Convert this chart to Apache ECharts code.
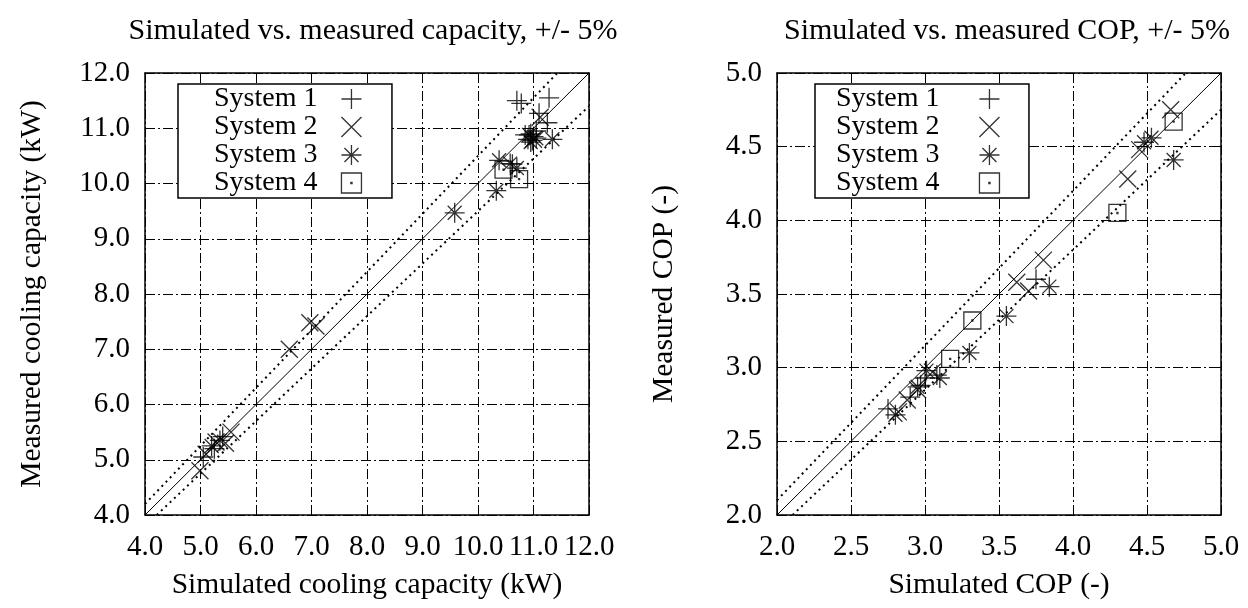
<!DOCTYPE html>
<html>
<head>
<meta charset="utf-8">
<script src="https://cdn.jsdelivr.net/npm/echarts@6/dist/echarts.min.js"></script>
<style>
  html, body { margin: 0; padding: 0; background: #fff; }
  #chart { width: 1248px; height: 608px; }
</style>
</head>
<body>
<div id="chart"></div>
<script>
// Series names shown in both legends
const systemNames = ['System 1', 'System 2', 'System 3', 'System 4'];

// Cooling capacity, [simulated kW, measured kW]
const capSystem1 = [[10.70, 11.50], [10.78, 11.45], [11.28, 11.55], [11.10, 11.27], [11.25, 11.10],
  [10.95, 10.90], [11.00, 10.85], [10.90, 10.80], [11.05, 10.95], [10.85, 10.88], [10.98, 10.78],
  [10.62, 10.35], [5.05, 5.05], [5.40, 5.42], [5.25, 5.20]];
const capSystem2 = [[11.12, 11.20], [11.00, 10.80], [6.60, 7.00], [6.97, 7.48], [7.08, 7.42],
  [4.99, 4.80], [5.10, 5.10], [5.55, 5.50], [5.45, 5.30], [5.28, 5.32]];
const capSystem3 = [[11.34, 10.80], [10.38, 10.42], [10.58, 10.36], [10.70, 10.28], [10.33, 9.87],
  [9.58, 9.47], [10.95, 10.75], [11.05, 10.82], [10.92, 10.88], [5.35, 5.35], [5.20, 5.25]];
const capSystem4 = [[10.46, 10.25], [10.74, 10.08]];

// COP, [simulated, measured]
const copSystem1 = [[2.75, 2.72], [2.90, 2.80], [2.97, 2.88], [3.08, 2.95], [3.00, 2.93], [3.75, 3.60]];
const copSystem2 = [[4.66, 4.75], [4.45, 4.48], [4.37, 4.28], [3.62, 3.58], [3.70, 3.52], [3.80, 3.73],
  [2.88, 2.78], [2.95, 2.85], [3.05, 2.97], [2.82, 2.70]];
const copSystem3 = [[4.48, 4.53], [4.53, 4.56], [4.68, 4.41], [3.84, 3.55], [3.55, 3.35], [3.30, 3.10],
  [3.01, 2.98], [2.95, 2.87], [2.80, 2.68], [3.10, 2.93]];
const copSystem4 = [[4.68, 4.67], [4.30, 4.05], [3.32, 3.32], [3.17, 3.06]];

// Axis ranges and tick steps
const capRange = [4, 12];
const capStep = 1;
const copRange = [2, 5];
const copStep = 0.5;

// Tolerance band around the 1:1 line
const TOL = 0.05;

const FONT = 'Liberation Serif';
const INK = '#000';

// Point shapes: plus, cross, asterisk, box with centre dot
const symbols = [
  { path: 'path://M0,10L20,10M10,0L10,20', size: 20 },
  { path: 'path://M0,0L20,20M0,20L20,0', size: 17 },
  { path: 'path://M0,10L20,10M10,0L10,20M3,3L17,17M3,17L17,3', size: 20 },
  { path: 'path://M0,0L20,0L20,20L0,20Z M9.4,9.4L10.6,9.4L10.6,10.6L9.4,10.6Z', size: 17 }
];

const capData = [capSystem1, capSystem2, capSystem3, capSystem4];
const copData = [copSystem1, copSystem2, copSystem3, copSystem4];

const gridDash = [10, 3, 2, 3];

function valueAxes(range, step, idx, name, isX) {
  const main = {
    type: 'value', gridIndex: idx, min: range[0], max: range[1], interval: step,
    position: isX ? 'bottom' : 'left',
    name: name, nameLocation: 'middle', nameGap: isX ? 55 : 98,
    nameTextStyle: { fontFamily: FONT, fontSize: 29.5, color: INK },
    axisLine: { show: true, onZero: false, lineStyle: { color: INK, width: 1.5 } },
    axisTick: { show: true, inside: true, length: 9, lineStyle: { color: INK, width: 1 } },
    axisLabel: {
      fontFamily: FONT, fontSize: 29, color: INK, margin: isX ? 18 : 15,
      formatter: v => v.toFixed(1)
    },
    splitLine: { show: true, lineStyle: { color: INK, width: 1, type: gridDash } }
  };
  const mirror = {
    type: 'value', gridIndex: idx, min: range[0], max: range[1], interval: step,
    position: isX ? 'top' : 'right',
    axisLine: { show: true, onZero: false, lineStyle: { color: INK, width: 1.5 } },
    axisTick: { show: true, inside: true, length: 9, lineStyle: { color: INK, width: 1 } },
    axisLabel: { show: false },
    splitLine: { show: false }
  };
  return [main, mirror];
}

function panelSeries(data, range, xIdx, yIdx) {
  const out = [];
  const lo = range[0], hi = range[1];
  // 1:1 line and the +/- tolerance lines
  out.push({
    type: 'line', name: 'parity', xAxisIndex: xIdx, yAxisIndex: yIdx,
    data: [[lo, lo], [hi, hi]], symbol: 'none', silent: true,
    lineStyle: { color: INK, width: 1 }, z: 3
  });
  out.push({
    type: 'line', name: 'upper', xAxisIndex: xIdx, yAxisIndex: yIdx,
    data: [[lo, lo * (1 + TOL)], [hi / (1 + TOL), hi]], symbol: 'none', silent: true,
    lineStyle: { color: INK, width: 2, type: [2, 4] }, z: 3
  });
  out.push({
    type: 'line', name: 'lower', xAxisIndex: xIdx, yAxisIndex: yIdx,
    data: [[lo / (1 - TOL), lo], [hi, hi * (1 - TOL)]], symbol: 'none', silent: true,
    lineStyle: { color: INK, width: 2, type: [2, 4] }, z: 3
  });
  data.forEach((pts, i) => {
    out.push({
      type: 'scatter', name: systemNames[i], xAxisIndex: xIdx, yAxisIndex: yIdx,
      data: pts, symbol: symbols[i].path, symbolSize: symbols[i].size,
      itemStyle: { color: 'none', borderColor: INK, borderWidth: 1.3 }, z: 4
    });
  });
  return out;
}

function legendAt(left, padLeft, width, padRight) {
  return {
    data: systemNames, orient: 'vertical', left: left, top: 84, align: 'right',
    itemWidth: width, itemHeight: 20, itemGap: 0, padding: [1, padRight, 1, padLeft],
    backgroundColor: '#fff', borderColor: INK, borderWidth: 1.5,
    textStyle: { fontFamily: FONT, fontSize: 28, color: INK, lineHeight: 28 },
    itemStyle: { color: 'none', borderColor: INK, borderWidth: 1.3 },
    selectedMode: false, z: 10
  };
}

const capX = valueAxes(capRange, capStep, 0, 'Simulated cooling capacity (kW)', true);
const capY = valueAxes(capRange, capStep, 0, 'Measured cooling capacity (kW)', false);
const copX = valueAxes(copRange, copStep, 1, 'Simulated COP (-)', true);
const copY = valueAxes(copRange, copStep, 1, 'Measured COP (-)', false);

const option = {
  animation: false,
  backgroundColor: '#fff',
  title: [
    { text: 'Simulated vs. measured capacity, +/- 5%', left: 368, top: 11, textAlign: 'center',
      textStyle: { fontFamily: FONT, fontSize: 30, fontWeight: 'normal', color: INK } },
    { text: 'Simulated vs. measured COP, +/- 5%', left: 1002, top: 11, textAlign: 'center',
      textStyle: { fontFamily: FONT, fontSize: 30, fontWeight: 'normal', color: INK } }
  ],
  grid: [
    { left: 145, top: 73, width: 444, height: 442 },
    { left: 777, top: 73, width: 444, height: 442 }
  ],
  xAxis: [capX[0], capX[1], copX[0], copX[1]],
  yAxis: [capY[0], capY[1], copY[0], copY[1]],
  legend: [legendAt(178, 36, 58, 28), legendAt(815, 21, 90, 27)],
  series: [].concat(
    panelSeries(capData, capRange, 0, 0),
    panelSeries(copData, copRange, 2, 2)
  )
};

const chart = echarts.init(document.getElementById('chart'), null, { renderer: 'canvas' });
chart.setOption(option);
</script>
</body>
</html>
